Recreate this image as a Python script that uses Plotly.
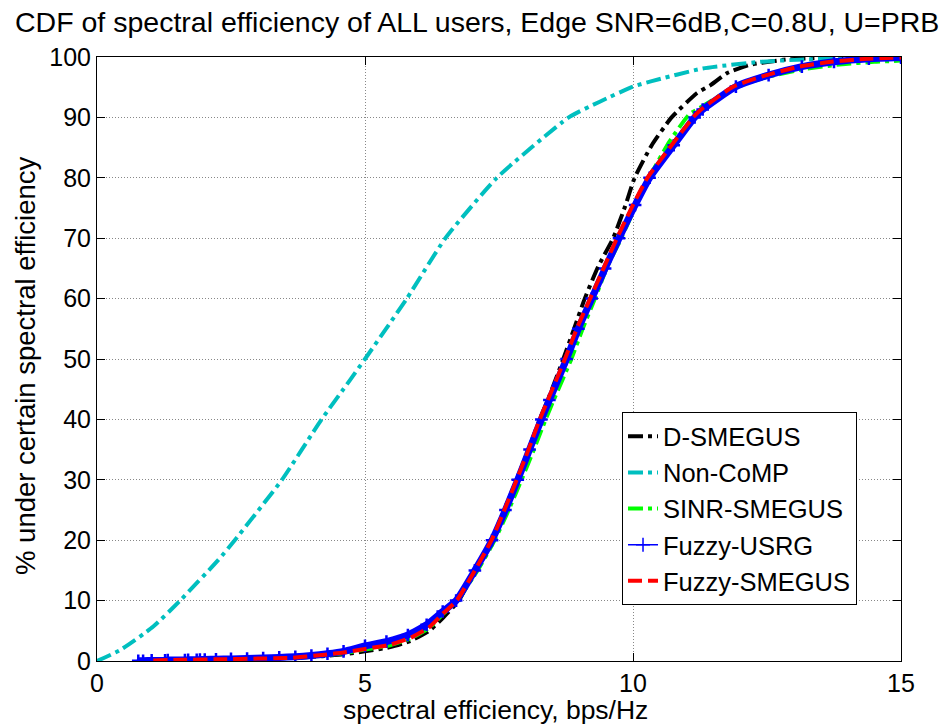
import plotly.graph_objects as go

# ---- data ----
dsm_x = [1.1, 1.7, 2.4, 3.0, 3.6, 4.2, 4.6, 5.0, 5.47, 5.84, 6.2, 6.46, 6.75, 7.05, 7.36, 7.6, 7.83, 8.05, 8.26,
         8.41, 8.7, 8.9, 9.1, 9.35, 9.63, 9.85, 10.03, 10.35, 10.72, 11.19, 11.44, 11.75, 12.18, 12.87, 13.5, 14.5, 15.0]
dsm_y = [0.1, 0.2, 0.3, 0.4, 0.5, 0.8, 1.1, 1.6, 2.3, 3.3, 5.0, 7.2, 10, 15, 20, 25, 30, 35, 40,
         43.2, 50, 55, 60, 65.3, 70, 75.2, 80, 85.4, 90, 94.0, 95.3, 97.3, 98.7, 99.6, 99.8, 99.9, 100]

noncomp_x = [0.0, 0.43, 1.05, 1.55, 2.26, 2.57, 3.45, 4.19, 4.72, 5.0, 5.78, 6.5, 7.46, 8.8, 9.38, 10.0,
             10.35, 11.3, 12.37, 13.2, 14.2, 15.0]
noncomp_y = [0, 1.8, 5.7, 10, 16.7, 20, 30, 40, 46.5, 50, 60, 70, 80, 90, 92.6, 95.1,
             96.0, 98.1, 99.2, 99.6, 99.8, 99.9]

sinr_x = [1.1, 1.7, 2.4, 3.0, 3.6, 4.2, 4.6, 5.0, 5.47, 5.84, 6.2, 6.46, 6.72, 7.1, 7.42, 7.68, 7.92, 8.15, 8.37,
          8.52, 8.85, 9.06, 9.29, 9.52, 9.78, 10.06, 10.3, 10.68, 11.05, 11.25, 11.9, 12.55, 13.2, 13.9, 14.5, 15.0]
sinr_y = [0.1, 0.2, 0.3, 0.4, 0.5, 0.9, 1.3, 1.9, 2.6, 3.7, 5.5, 7.8, 10, 15, 20, 25, 30, 35, 40,
          43.2, 50, 55, 60, 65.3, 70, 75.5, 80, 86, 90.5, 91.6, 95, 96.8, 98.0, 98.8, 99.2, 99.4]

usrg_x = [0.77, 0.86, 1.02, 1.27, 1.32, 1.64, 1.7, 1.86, 1.92, 2.01, 2.22, 2.5, 2.8, 3.1, 3.4, 3.7, 4.0, 4.3,
          4.6, 5.0, 5.4, 5.8, 6.15, 6.45, 6.7, 7.05, 7.37, 7.62, 7.85, 8.07, 8.29, 8.44, 8.76, 8.98, 9.23, 9.48,
          9.74, 10.04, 10.31, 10.76, 11.15, 11.3, 11.92, 12.53, 13.15, 13.75, 14.4, 15.0]
usrg_y = [0.05, 0.05, 0.1, 0.1, 0.15, 0.15, 0.2, 0.2, 0.25, 0.25, 0.3, 0.35, 0.4, 0.5, 0.6, 0.7, 0.9, 1.2,
          1.6, 2.5, 3.2, 4.3, 6.0, 8.2, 10, 15, 20, 25, 30, 35, 40, 43.2, 50, 55, 60, 65,
          70, 75.5, 80, 85.4, 90, 91.3, 95.1, 97.0, 98.4, 99.2, 99.7, 99.9]

fsm_x = [1.05, 1.6, 2.36, 3.0, 3.6, 4.2, 4.6, 5.0, 5.47, 5.84, 6.2, 6.46, 6.71, 7.05, 7.36, 7.6, 7.83, 8.05, 8.26,
         8.41, 8.73, 8.95, 9.2, 9.45, 9.7, 10.0, 10.27, 10.72, 11.12, 11.27, 11.87, 12.49, 13.1, 13.7, 14.36, 15.0]
fsm_y = [0.1, 0.2, 0.3, 0.4, 0.5, 1.0, 1.4, 2.0, 2.7, 3.8, 5.6, 7.9, 10, 15, 20, 25, 30, 35, 40,
         43.2, 50, 55, 60, 65, 70, 75.5, 80, 85.4, 90, 91.3, 95.1, 97.0, 98.4, 99.2, 99.7, 99.9]

x_ticks = [0, 5, 10, 15]
y_ticks = [0, 10, 20, 30, 40, 50, 60, 70, 80, 90, 100]

title_text = "CDF of spectral efficiency of ALL users, Edge SNR=6dB,C=0.8U, U=PRB"
x_label = "spectral efficiency, bps/Hz"
y_label = "% under certain spectral efficiency"

FONT = "Liberation Sans, Arial, Helvetica, sans-serif"
DASHDOT = "15px,5px,4px,5px"
SMOOTH = 0.5

fig = go.Figure()
fig.add_trace(go.Scatter(x=dsm_x, y=dsm_y, mode="lines", name="D-SMEGUS", legendrank=1,
                         line=dict(color="#000000", width=4, dash=DASHDOT, shape="spline", smoothing=SMOOTH)))
fig.add_trace(go.Scatter(x=noncomp_x, y=noncomp_y, mode="lines", name="Non-CoMP", legendrank=2,
                         line=dict(color="#00BFBF", width=4, dash=DASHDOT, shape="spline", smoothing=SMOOTH)))
fig.add_trace(go.Scatter(x=sinr_x, y=sinr_y, mode="lines", name="SINR-SMEGUS", legendrank=3,
                         line=dict(color="#00FF00", width=4, dash=DASHDOT, shape="spline", smoothing=SMOOTH)))
# Fuzzy-USRG: dense '+' markers form a thick blue band in the plot
fig.add_trace(go.Scatter(x=usrg_x, y=usrg_y, mode="lines+markers", name="Fuzzy-USRG", showlegend=False,
                         legendgroup="usrg",
                         line=dict(color="#0000FF", width=7, shape="spline", smoothing=SMOOTH),
                         marker=dict(symbol="cross-thin", size=9, line=dict(color="#0000FF", width=2.5))))
fig.add_trace(go.Scatter(x=[None], y=[None], mode="lines+markers", name="Fuzzy-USRG", legendrank=4,
                         legendgroup="usrg",
                         line=dict(color="#0000FF", width=1.5),
                         marker=dict(symbol="cross-thin", size=10, line=dict(color="#0000FF", width=1.5))))
fig.add_trace(go.Scatter(x=fsm_x, y=fsm_y, mode="lines", name="Fuzzy-SMEGUS", legendrank=5,
                         line=dict(color="#FF0000", width=4, dash="14px,6px", shape="spline", smoothing=SMOOTH)))

axis_common = dict(
    showline=True, linecolor="black", linewidth=1, mirror="ticks",
    ticks="inside", ticklen=8, tickcolor="black",
    showgrid=True, gridcolor="#888888", griddash="1px,2px", gridwidth=1,
    zeroline=False, tickfont=dict(family=FONT, size=25, color="black"),
)

fig.update_layout(
    width=949, height=727,
    margin=dict(l=97, r=48, t=57, b=66),
    paper_bgcolor="white", plot_bgcolor="white",
    font=dict(family=FONT, color="black"),
    xaxis=dict(range=[0, 15], tickvals=x_ticks, ticktext=[str(v) for v in x_ticks], **axis_common),
    yaxis=dict(range=[0, 100], tickvals=y_ticks, ticktext=[str(v) for v in y_ticks], **axis_common),
    legend=dict(x=0.653, y=0.412, xanchor="left", yanchor="top",
                bgcolor="white", bordercolor="black", borderwidth=1,
                font=dict(family=FONT, size=25.5, color="black"),
                tracegroupgap=0, itemsizing="trace"),
    showlegend=True,
    annotations=[
        dict(text=title_text, xref="paper", yref="paper", x=0.4726, y=(661 - 22) / 604,
             xanchor="center", yanchor="middle", showarrow=False,
             font=dict(family=FONT, size=28.5, color="black")),
        dict(text=x_label, xref="paper", yref="paper", x=0.4956, y=(661 - 710) / 604,
             xanchor="center", yanchor="middle", showarrow=False,
             font=dict(family=FONT, size=26.5, color="black")),
        dict(text=y_label, xref="paper", yref="paper", x=(25 - 97) / 804, y=(661 - 366) / 604,
             xanchor="center", yanchor="middle", showarrow=False, textangle=-90,
             font=dict(family=FONT, size=27.5, color="black")),
    ],
)

fig.write_html("out.html")
